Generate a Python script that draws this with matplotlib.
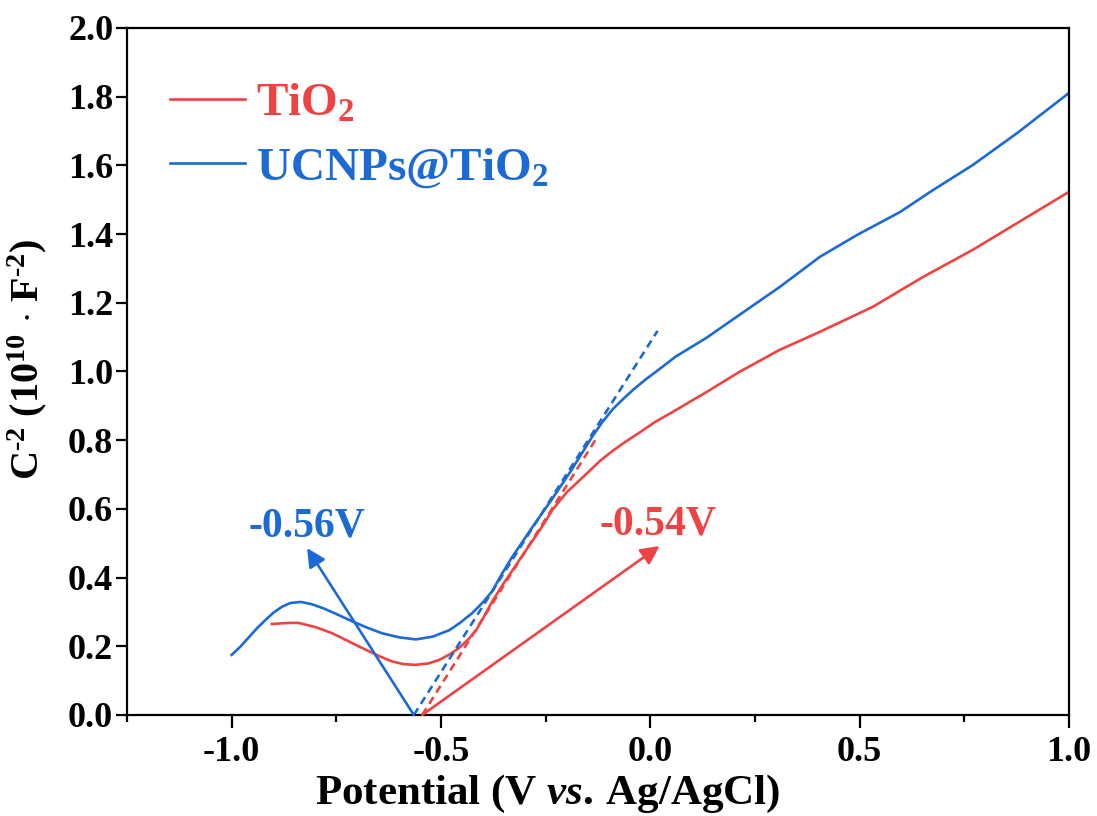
import numpy as np
import matplotlib
matplotlib.use("Agg")
import matplotlib.pyplot as plt
from matplotlib.lines import Line2D
from matplotlib.ticker import MultipleLocator

plt.rcParams['font.family'] = ['Liberation Serif', 'DejaVu Serif']
plt.rcParams['font.weight'] = 'bold'
plt.rcParams['mathtext.fontset'] = 'custom'
plt.rcParams['mathtext.rm'] = 'Liberation Serif:bold'
plt.rcParams['mathtext.bf'] = 'Liberation Serif:bold'
plt.rcParams['mathtext.it'] = 'Liberation Serif:italic:bold'

RED = '#EF4343'
BLUE = '#1B6AD6'

# TiO2 Mott-Schottky curve
tio2_x = [-0.904, -0.864, -0.84, -0.80, -0.76, -0.72, -0.68, -0.645, -0.617,
          -0.59, -0.56, -0.53, -0.505, -0.48, -0.457, -0.435, -0.416, -0.398,
          -0.378, -0.355, -0.33, -0.305, -0.28, -0.255, -0.234, -0.2, -0.15,
          -0.12, -0.091, -0.06, -0.026, 0.01, 0.053, 0.134, 0.213, 0.309,
          0.404, 0.531, 0.651, 0.770, 0.876, 1.0]
tio2_y = [0.265, 0.268, 0.268, 0.256, 0.238, 0.214, 0.19, 0.17, 0.156,
          0.148, 0.146, 0.150, 0.160, 0.176, 0.195, 0.22, 0.247, 0.285,
          0.33, 0.375, 0.42, 0.465, 0.51, 0.555, 0.597, 0.648, 0.705,
          0.74, 0.768, 0.795, 0.822, 0.852, 0.882, 0.940, 0.999, 1.063,
          1.115, 1.188, 1.275, 1.354, 1.432, 1.523]

# UCNPs@TiO2 Mott-Schottky curve
ucnp_x = [-1.0, -0.98, -0.96, -0.94, -0.919, -0.90, -0.88, -0.86, -0.835,
          -0.81, -0.78, -0.75, -0.72, -0.68, -0.641, -0.60, -0.56, -0.52,
          -0.48, -0.455, -0.426, -0.40, -0.378, -0.355, -0.33, -0.28, -0.234,
          -0.19, -0.139, -0.115, -0.09, -0.065, -0.04, -0.01, 0.025, 0.06,
          0.134, 0.213, 0.309, 0.404, 0.493, 0.596, 0.675, 0.770, 0.876, 1.0]
ucnp_y = [0.175, 0.198, 0.225, 0.252, 0.277, 0.298, 0.315, 0.326, 0.329,
          0.323, 0.31, 0.294, 0.277, 0.256, 0.238, 0.226, 0.22, 0.228,
          0.247, 0.268, 0.296, 0.328, 0.36, 0.41, 0.46, 0.55, 0.63,
          0.71, 0.81, 0.852, 0.89, 0.92, 0.948, 0.978, 1.01, 1.043,
          1.098, 1.165, 1.246, 1.333, 1.397, 1.464, 1.528, 1.601, 1.694, 1.811]

# tangent fits (x intercept -> upper end)
tio2_fit_x = [-0.545, -0.127]
tio2_fit_y = [0.0, 0.809]
ucnp_fit_x = [-0.565, 0.017]
ucnp_fit_y = [0.0, 1.118]

# arrows to the intercept labels
ucnp_arrow = [(-0.565, 0.0), (-0.82, 0.486)]
tio2_arrow = [(-0.545, 0.0), (0.022, 0.492)]

x_ticks = [-1.0, -0.5, 0.0, 0.5, 1.0]
y_ticks = [0.0, 0.2, 0.4, 0.6, 0.8, 1.0, 1.2, 1.4, 1.6, 1.8, 2.0]

fig = plt.figure(figsize=(10.97, 8.16), dpi=100)
ax = fig.add_axes([0.1158, 0.1238, 0.8587, 0.8419])

ax.plot(tio2_x, tio2_y, color=RED, lw=1.9)
ax.plot(ucnp_x, ucnp_y, color=BLUE, lw=1.9)
ax.plot(tio2_fit_x, tio2_fit_y, color=RED, lw=1.9, linestyle=(0, (3, 2)))
ax.plot(ucnp_fit_x, ucnp_fit_y, color=BLUE, lw=1.9, linestyle=(0, (3, 2)))

for (start, end), col in [(ucnp_arrow, BLUE), (tio2_arrow, RED)]:
    ax.annotate('', xy=end, xytext=start,
                arrowprops=dict(arrowstyle='-|>', color=col, lw=1.9,
                                mutation_scale=28, shrinkA=0, shrinkB=0))

ax.text(-0.959, 0.52, '-0.56V', color=BLUE, fontsize=30, fontweight='bold',
        ha='left', va='baseline')
ax.text(-0.122, 0.524, '-0.54V', color=RED, fontsize=30, fontweight='bold',
        ha='left', va='baseline')

ax.set_xlim(-1.25, 1.0)
ax.set_ylim(0.0, 2.0)
ax.set_xticks(x_ticks)
ax.set_xticklabels(['%.1f' % v for v in x_ticks])
ax.xaxis.set_minor_locator(MultipleLocator(0.25))
ax.set_yticks(y_ticks)
ax.set_yticklabels(['%.1f' % v for v in y_ticks])

ax.tick_params(axis='x', which='major', direction='out', length=9, width=1.6,
               labelsize=26, pad=6)
ax.tick_params(axis='x', which='minor', direction='out', length=5, width=1.6)
ax.tick_params(axis='y', which='major', direction='out', length=8, width=1.6,
               labelsize=26, pad=2)
for s in ax.spines.values():
    s.set_linewidth(1.6)

for lab in ax.get_xticklabels() + ax.get_yticklabels():
    lab.set_fontweight('bold')

ax.set_xlabel(r'Potential (V $\mathit{vs.}\,$Ag/AgCl)', fontsize=31,
              fontweight='bold')
ax.xaxis.set_label_coords(0.446, -0.085)
ax.set_ylabel(r'C$^{\text{-}2}$ (10$^{10}$ $\cdot$ F$^{\text{-}2}$)',
              fontsize=29, fontweight='bold')
ax.yaxis.set_label_coords(-0.083, 0.517)

handles = [Line2D([], [], color=RED, lw=1.9),
           Line2D([], [], color=BLUE, lw=1.9)]
ax.legend(handles, [r'TiO$_{2}$', r'UCNPs@TiO$_{2}$'], loc='upper left',
          bbox_to_anchor=(0.046, 0.921), frameon=False,
          prop={'weight': 'bold', 'size': 34}, labelcolor='linecolor',
          handlelength=1.57, handletextpad=0.25, labelspacing=0.45,
          borderaxespad=0, borderpad=0)

fig.savefig('out.png', dpi=100)
